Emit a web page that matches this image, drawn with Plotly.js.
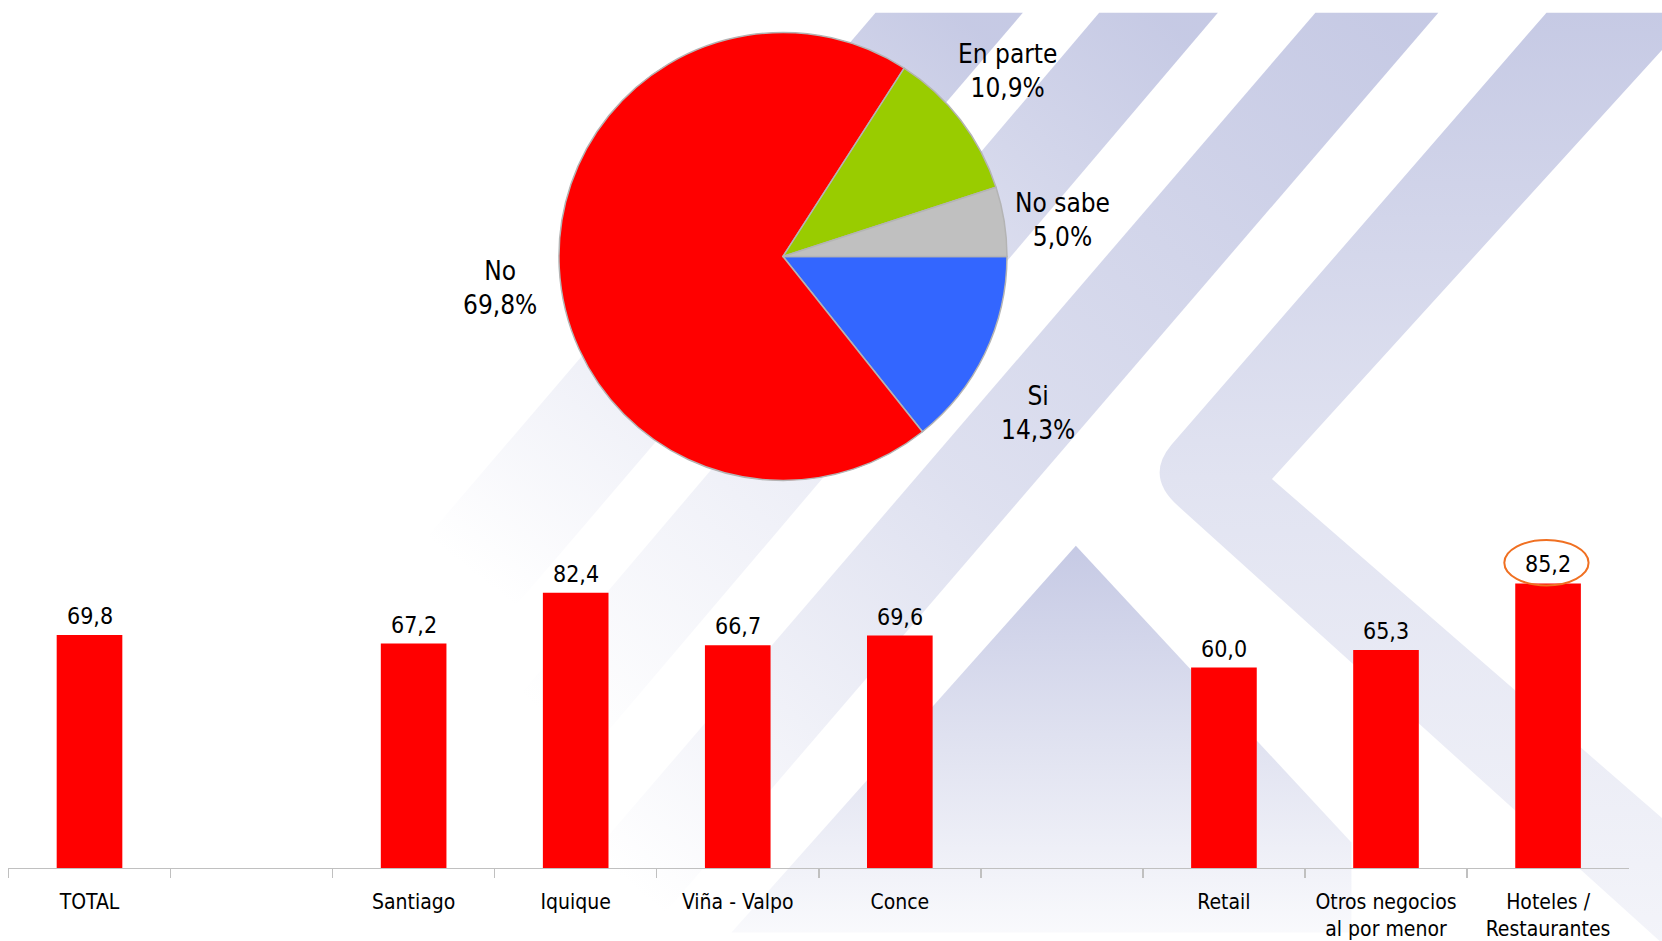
<!DOCTYPE html>
<html>
<head>
<meta charset="utf-8">
<script src="https://cdn.plot.ly/plotly-3.0.1.min.js"></script>
<style>html,body{margin:0;padding:0;background:#fff;}#chart{width:1662px;height:941px;}</style>
</head>
<body>
<div id="chart"></div>
<script>
// ---- Data ----
const pieLabels = ['Si', 'No', 'En parte', 'No sabe'];
const pieValues = [14.3, 69.8, 10.9, 5.0];
const pieColors = ['#3366ff', '#ff0000', '#99cc00', '#c0c0c0'];

const categories = ['TOTAL', ' ', 'Santiago', 'Iquique', 'Viña - Valpo', 'Conce', '  ', 'Retail', 'Otros negocios<br>al por menor', 'Hoteles /<br>Restaurantes'];
const noValues = [69.8, null, 67.2, 82.4, 66.7, 69.6, null, 60.0, 65.3, 85.2];

const fmt = v => (v === null ? '' : v.toFixed(1).replace('.', ','));
const FONT = 'DejaVu Sans Condensed, DejaVu Sans, sans-serif';
const W = 1662, H = 941;

// ---- Background watermark (decoration) ----
const col = '#c3c7e3';
const svg = `<svg xmlns="http://www.w3.org/2000/svg" viewBox="0 0 1568 888" preserveAspectRatio="none" width="1662" height="941">
<defs>
<linearGradient id="gA" gradientUnits="userSpaceOnUse" x1="900" y1="12" x2="470" y2="560"><stop offset="0" stop-color="${col}" stop-opacity="0.95"/><stop offset="0.45" stop-color="${col}" stop-opacity="0.45"/><stop offset="1" stop-color="${col}" stop-opacity="0"/></linearGradient>
<linearGradient id="gB" gradientUnits="userSpaceOnUse" x1="1090" y1="12" x2="520" y2="680"><stop offset="0" stop-color="${col}" stop-opacity="0.95"/><stop offset="0.5" stop-color="${col}" stop-opacity="0.4"/><stop offset="1" stop-color="${col}" stop-opacity="0"/></linearGradient>
<linearGradient id="gC" gradientUnits="userSpaceOnUse" x1="1300" y1="12" x2="600" y2="840"><stop offset="0" stop-color="${col}" stop-opacity="0.95"/><stop offset="0.55" stop-color="${col}" stop-opacity="0.55"/><stop offset="1" stop-color="${col}" stop-opacity="0"/></linearGradient>
<linearGradient id="gD" gradientUnits="userSpaceOnUse" x1="0" y1="12" x2="0" y2="888"><stop offset="0" stop-color="${col}" stop-opacity="0.95"/><stop offset="0.5" stop-color="${col}" stop-opacity="0.5"/><stop offset="1" stop-color="${col}" stop-opacity="0.2"/></linearGradient>
<linearGradient id="gM" gradientUnits="userSpaceOnUse" x1="0" y1="515" x2="0" y2="880"><stop offset="0" stop-color="${col}" stop-opacity="0.95"/><stop offset="1" stop-color="${col}" stop-opacity="0.1"/></linearGradient>
</defs>
<path d="M826,12 L965,12 L475,585 L336,585 Z" fill="url(#gA)"/>
<path d="M1037,12 L1149,12 L565,700 L453,700 Z" fill="url(#gB)"/>
<path d="M1241,12 L1357,12 L620,870 L504,870 Z" fill="url(#gC)"/>
<path d="M1459,12 L1600,12 L1200,452 L1568,772 L1568,890 L1112,478 Q1080,450 1105,420 Z" fill="url(#gD)"/>
<path d="M1015,515 L1275,795 L1275,880 L690,880 Z" fill="url(#gM)"/>
</svg>`;
const bgSource = 'data:image/svg+xml;charset=utf-8,' + encodeURIComponent(svg);

// ---- Pie geometry (domain) and outside labels placed from slice mid-angles ----
const pieDomain = {x: [0.3363, 0.6059], y: [0.4894, 0.9655]};
const pcx = (pieDomain.x[0] + pieDomain.x[1]) / 2 * W;
const pcy = (1 - (pieDomain.y[0] + pieDomain.y[1]) / 2) * H;
const pr = (pieDomain.y[1] - pieDomain.y[0]) * H / 2;
const total = pieValues.reduce((a, b) => a + b, 0);
let cum = 0;
const pieAnnotations = pieValues.map((v, i) => {
  const mid = (cum + v / 2) / total * 2 * Math.PI; // clockwise from 3 o'clock
  cum += v;
  const px = pcx + 1.263 * pr * Math.cos(mid);
  const py = pcy + 1.464 * pr * Math.sin(mid) + 0.065 * pr;
  return {
    xref: 'paper', yref: 'paper',
    x: px / W, y: 1 - py / H,
    xanchor: 'center', yanchor: 'middle',
    text: pieLabels[i] + '<br>' + fmt(v) + '%',
    showarrow: false,
    align: 'center',
    font: {family: FONT, size: 26, color: '#000'}
  };
});

// ---- Bar value labels ----
const barAnnotations = [];
categories.forEach((c, i) => {
  if (noValues[i] === null) return;
  barAnnotations.push({
    xref: 'x', yref: 'y',
    x: c, y: noValues[i],
    text: fmt(noValues[i]),
    yanchor: 'bottom', xanchor: 'center',
    yshift: 4,
    showarrow: false,
    font: {family: FONT, size: 23, color: '#000'}
  });
});

// ---- Highlight on the max bar ----
const maxVal = Math.max(...noValues.filter(v => v !== null));
const maxIdx = noValues.indexOf(maxVal);

const pieTrace = {
  type: 'pie',
  labels: pieLabels,
  values: pieValues,
  textinfo: 'none',
  sort: false,
  direction: 'clockwise',
  rotation: 90,
  marker: {colors: pieColors, line: {color: '#b4b4b4', width: 1.5}},
  domain: pieDomain,
  showlegend: false,
  hoverinfo: 'skip'
};

const barTrace = {
  type: 'bar',
  x: categories,
  y: noValues,
  marker: {color: '#ff0000'},
  xaxis: 'x',
  yaxis: 'y',
  hoverinfo: 'skip',
  showlegend: false
};

const layout = {
  width: W,
  height: H,
  margin: {l: 0, r: 0, t: 0, b: 0},
  paper_bgcolor: '#ffffff',
  plot_bgcolor: 'rgba(0,0,0,0)',
  showlegend: false,
  bargap: 0.595,
  font: {family: FONT, color: '#000'},
  xaxis: {
    type: 'category',
    domain: [0.0051, 0.9802],
    categoryorder: 'array',
    categoryarray: categories,
    showline: true,
    linecolor: '#c0c0c0',
    linewidth: 1.5,
    ticks: 'outside',
    tickson: 'boundaries',
    ticklen: 9,
    tickwidth: 1.5,
    tickcolor: '#c0c0c0',
    ticklabelstandoff: 14,
    tickfont: {family: FONT, size: 21, color: '#000'},
    showgrid: false,
    zeroline: false,
    fixedrange: true
  },
  yaxis: {
    domain: [0.0776, 0.4325],
    range: [0, 100],
    visible: false,
    showgrid: false,
    zeroline: false,
    fixedrange: true
  },
  images: [{
    source: bgSource,
    xref: 'paper', yref: 'paper',
    x: 0, y: 1, sizex: 1, sizey: 1,
    xanchor: 'left', yanchor: 'top',
    sizing: 'stretch',
    layer: 'below'
  }],
  annotations: pieAnnotations.concat(barAnnotations),
  shapes: [{
    type: 'circle',
    xref: 'x', yref: 'y',
    x0: maxIdx - 0.27, x1: maxIdx + 0.25,
    y0: maxVal - 0.6, y1: maxVal + 13,
    line: {color: '#f07022', width: 2},
    fillcolor: 'rgba(0,0,0,0)'
  }]
};

Plotly.newPlot('chart', [barTrace, pieTrace], layout, {displayModeBar: false, staticPlot: true});
</script>
</body>
</html>
